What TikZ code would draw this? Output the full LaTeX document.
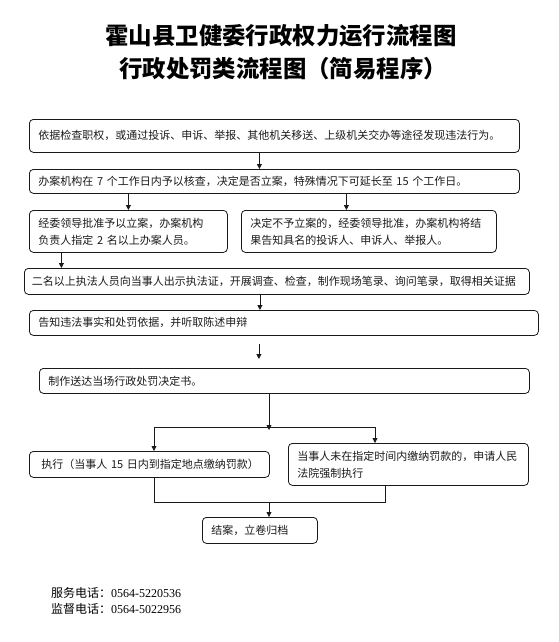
\documentclass[tikz,border=0pt]{standalone}
\usepackage{fontspec}
\usepackage{xcolor}
\usepackage{tikz}
\usetikzlibrary{arrows.meta}
\setmainfont{Liberation Serif}
\newfontfamily\cjk{Noto Sans CJK SC}
\definecolor{inkmain}{HTML}{1A1A1A}
\tikzset{
  stepbox/.style={draw=inkmain,line width=.8pt,rounded corners=4pt,anchor=north west,
    align=left,inner xsep=9pt,inner ysep=0pt,text=inkmain,
    font=\cjk\fontsize{11}{17}\selectfont},
  wire/.style={draw=inkmain,line width=.8pt},
  titletext/.style={font=\cjk\bfseries\fontsize{23.4}{28}\selectfont,text=black},
  phonetext/.style={anchor=west,inner sep=0pt,font=\cjk\fontsize{12}{14}\selectfont}
}

\begin{document}
\begin{tikzpicture}[x=1pt,y=-1pt,>={Triangle[length=5pt,width=5pt]}]
\useasboundingbox (0,0) rectangle (559,642);
% title
\node[titletext] (t1) at (281,36) {霍山县卫健委行政权力运行流程图};
\node[titletext] (t2) at (283,69) {行政处罚类流程图（简易程序）};
% boxes
\node[stepbox,minimum width=490pt,minimum height=33pt,text width=472pt] (b1) at (29,119)
  {依据检查职权，或通过投诉、申诉、举报、其他机关移送、上级机关交办等途径发现违法行为。};
\node[stepbox,minimum width=490pt,minimum height=24pt,text width=472pt] (b2) at (29,169)
  {办案机构在~7~个工作日内予以核查，决定是否立案，特殊情况下可延长至~15~个工作日。};
\node[stepbox,minimum width=193pt,minimum height=42pt,text width=180pt] (b3l) at (29,210)
  {经委领导批准予以立案，办案机构\\负责人指定~2~名以上办案人员。};
\node[stepbox,minimum width=255pt,minimum height=42pt,text width=237pt] (b3r) at (241,210)
  {决定不予立案的，经委领导批准，办案机构将结\\果告知具名的投诉人、申诉人、举报人。};
\node[stepbox,minimum width=505pt,minimum height=26pt,text width=490pt,inner xsep=7.5pt] (b4) at (24,268)
  {二名以上执法人员向当事人出示执法证，开展调查、检查，制作现场笔录、询问笔录，取得相关证据};
\node[stepbox,minimum width=509pt,minimum height=25pt,text width=491pt] (b5) at (29,310)
  {告知违法事实和处罚依据，并听取陈述申辩};
\node[stepbox,minimum width=490pt,minimum height=25pt,text width=472pt] (b6) at (39,368)
  {制作送达当场行政处罚决定书。};
\node[stepbox,minimum width=240pt,minimum height=26pt,text width=216pt,inner xsep=12pt] (b7) at (29,451)
  {执行（当事人~15~日内到指定地点缴纳罚款）};
\node[stepbox,minimum width=240pt,minimum height=42pt,text width=222pt] (b8) at (288,443)
  {当事人未在指定时间内缴纳罚款的，申请人民\\法院强制执行};
\node[stepbox,minimum width=115pt,minimum height=26pt,text width=97pt] (b9) at (202,517)
  {结案，立卷归档};
% connectors
\draw[wire,->] ([xshift=-15pt]b1.south) coordinate (c1) -- (c1 |- b2.north);
\draw[wire,->] (b2.south -| b3l.north) -- (b3l.north);
\draw[wire,->] ([xshift=72pt]b2.south) coordinate (c2) -- (c2 |- b3r.north);
\draw[wire,->] ([xshift=-67pt]b3l.south) coordinate (c3) -- (c3 |- b4.north);
\draw[wire,->] ([xshift=-17pt]b4.south) coordinate (c4) -- (c4 |- b5.north);
\draw[wire,->,shorten <=8pt,shorten >=9pt] ([xshift=-25pt]b5.south) coordinate (c5) -- (c5 |- b6.north);
\coordinate (split) at (269,427);
\coordinate (sl) at (154,427);
\coordinate (sr) at (375,427);
\draw[wire,->] (b6.south -| split) -- ([yshift=-3pt]split);
\draw[wire] (sl) -- (sr);
\draw[wire,->] (sl) -- (sl |- b7.north);
\draw[wire,->] (sr) -- (sr |- b8.north);
\coordinate (jl) at (154,502);
\coordinate (jr) at (385,502);
\coordinate (mj) at (269,502);
\draw[wire] (jl |- b7.south) -- (jl) -- (jr) -- (jr |- b8.south);
\draw[wire,->] (mj) -- (mj |- b9.north);
% footer
\node[phonetext] (f1) at (51,593) {服务电话：\rmfamily 0564-5220536};
\node[phonetext] (f2) at (51,609) {监督电话：\rmfamily 0564-5022956};
\end{tikzpicture}
\end{document}
